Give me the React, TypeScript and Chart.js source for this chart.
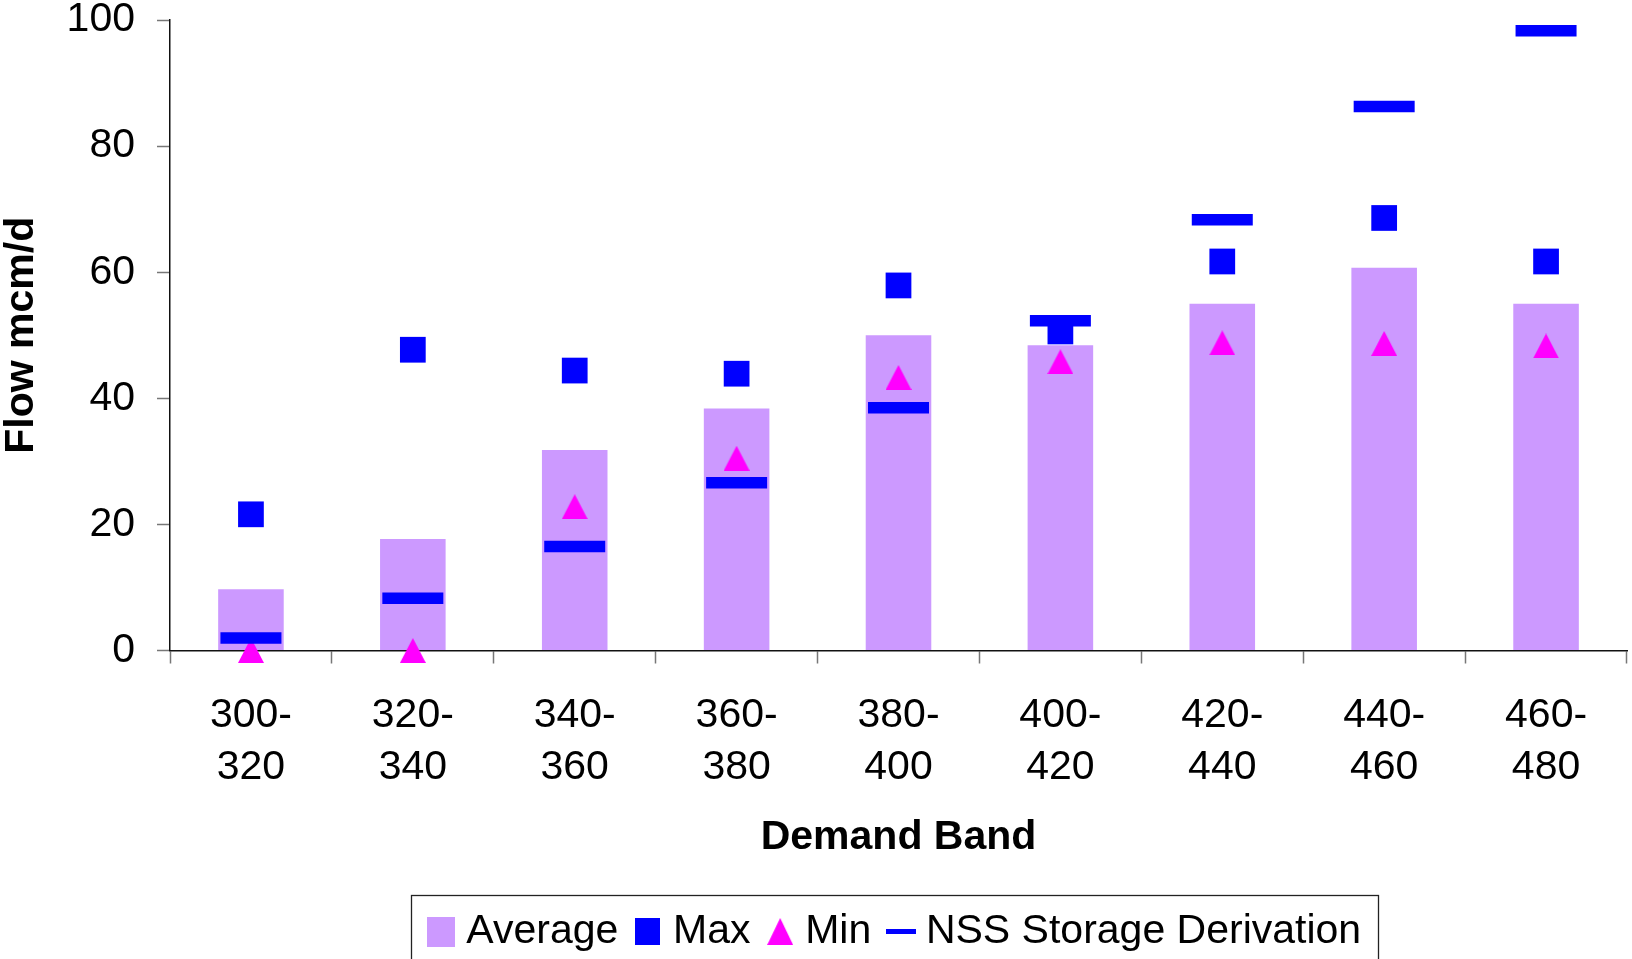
import React, { useEffect, useRef } from 'react';
import { Chart, registerables } from 'chart.js';

Chart.register(...registerables);

const categories = ['300-320', '320-340', '340-360', '360-380', '380-400', '400-420', '420-440', '440-460', '460-480'];
const averageValues = [9.7, 17.7, 31.8, 38.4, 50.0, 48.4, 55.0, 60.7, 55.0];
const maxValues = [21.6, 47.7, 44.4, 43.9, 57.9, 50.6, 61.7, 68.6, 61.7];
const minValues = [0, 0, 22.8, 30.5, 43.3, 45.8, 48.8, 48.7, 48.3];
const nssValues = [2.0, 8.3, 16.5, 26.6, 38.5, 52.3, 68.3, 86.3, 98.3];
const yTicks = [0, 20, 40, 60, 80, 100];
const seriesNames = ['Average', 'Max', 'Min', 'NSS Storage Derivation'];

const AVG_COLOR = '#CC99FF';
const MAX_COLOR = '#0000FF';
const MIN_COLOR = '#FF00FF';
const NSS_COLOR = '#0000FF';
const FONT = '"Liberation Sans", Arial, Helvetica, sans-serif';
const FS = 41;

function makeCanvas(w: number, h: number, draw: (ctx: CanvasRenderingContext2D) => void) {
  const c = document.createElement('canvas');
  c.width = w;
  c.height = h;
  const ctx = c.getContext('2d')!;
  draw(ctx);
  return c;
}

function triangle(w: number, h: number, color: string) {
  return makeCanvas(w, h, (ctx) => {
    ctx.fillStyle = color;
    ctx.beginPath();
    ctx.moveTo(w / 2, 0);
    ctx.lineTo(w, h);
    ctx.lineTo(0, h);
    ctx.closePath();
    ctx.fill();
  });
}

function rect(w: number, h: number, color: string) {
  return makeCanvas(w, h, (ctx) => {
    ctx.fillStyle = color;
    ctx.fillRect(0, 0, w, h);
  });
}

export default function App() {
  const ref = useRef<HTMLCanvasElement>(null);

  useEffect(() => {
    document.body.style.margin = '0';
    const minPoint = triangle(26, 25, MIN_COLOR);
    const legendAvg = rect(28, 30, AVG_COLOR);
    const legendMax = rect(25, 27, MAX_COLOR);
    const legendMin = triangle(26, 27, MIN_COLOR);
    const legendNss = rect(30, 5, NSS_COLOR);
    const legendSymbols = [legendAvg, legendMax, legendMin, legendNss];

    const legendPlugin = {
      id: 'legendFrame',
      afterLayout(chart: any) {
        const lg = chart.legend;
        if (lg) {
          const center = 899;
          lg.left = 2 * center - lg.right;
          lg.width = lg.right - lg.left;
          lg.top += 3;
          lg.bottom += 3;
        }
      },
      afterDraw(chart: any) {
        const lg = chart.legend;
        if (!lg) return;
        const ctx = chart.ctx;
        ctx.save();
        ctx.strokeStyle = '#222';
        ctx.lineWidth = 1.3;
        ctx.strokeRect(411.5, 895.5, 967, 120);
        ctx.restore();
      },
    };

    Chart.defaults.font.family = FONT;
    Chart.defaults.color = '#000';

    const chart = new Chart(ref.current!, {
      type: 'bar',
      data: {
        labels: categories,
        datasets: [
          {
            type: 'bar',
            label: seriesNames[0],
            data: averageValues,
            backgroundColor: AVG_COLOR,
            borderWidth: 0,
            barPercentage: 0.405,
            categoryPercentage: 1.0,
            order: 4,
          },
          {
            type: 'line',
            label: seriesNames[1],
            data: maxValues,
            showLine: false,
            pointStyle: 'rect',
            pointRadius: 18.2,
            pointBackgroundColor: MAX_COLOR,
            pointBorderWidth: 0,
            clip: false,
            order: 3,
          },
          {
            type: 'line',
            label: seriesNames[2],
            data: minValues,
            showLine: false,
            pointStyle: minPoint,
            pointRadius: 13,
            pointBackgroundColor: MIN_COLOR,
            pointBorderWidth: 0,
            clip: false,
            order: 2,
          },
          {
            type: 'line',
            label: seriesNames[3],
            data: nssValues,
            showLine: false,
            pointStyle: 'line',
            pointRadius: 30.5,
            pointBorderWidth: 11.5,
            pointBorderColor: NSS_COLOR,
            pointBackgroundColor: NSS_COLOR,
            clip: false,
            order: 1,
          },
        ] as any,
      },
      options: {
        responsive: false,
        animation: false,
        events: [],
        layout: { autoPadding: false, padding: { top: 20, right: 5, bottom: 0, left: 0 } },
        plugins: {
          tooltip: { enabled: false },
          legend: {
            display: true,
            position: 'bottom',
            align: 'center',
            labels: {
              usePointStyle: true,
              boxWidth: 9,
              boxHeight: 28,
              padding: 25.2,
              color: '#000',
              font: { size: FS, family: FONT },
              generateLabels: () =>
                seriesNames.map((name, i) => ({
                  text: name,
                  pointStyle: legendSymbols[i] as any,
                  fillStyle: 'transparent',
                  strokeStyle: 'transparent',
                  lineWidth: 0,
                  hidden: false,
                  datasetIndex: i,
                  fontColor: '#000',
                })),
            },
          },
        },
        scales: {
          x: {
            type: 'category',
            offset: true,
            grid: {
              display: true,
              offset: true,
              drawOnChartArea: false,
              drawTicks: true,
              tickLength: 13,
              tickColor: '#777',
              tickWidth: 1.5,
            },
            border: { display: true, color: '#111', width: 1.5 },
            ticks: {
              padding: 26.5,
              maxRotation: 0,
              autoSkip: false,
              color: '#000',
              font: { size: FS, family: FONT, lineHeight: 52 / FS },
              callback: (_v: any, i: number) => {
                const s = categories[i];
                const k = s.indexOf('-');
                return [s.slice(0, k + 1), s.slice(k + 1)];
              },
            },
            title: {
              display: true,
              text: 'Demand Band',
              color: '#000',
              font: { size: FS, weight: 'bold', family: FONT, lineHeight: 1.2 },
              padding: { top: 20, bottom: 20.2 },
            },
            afterFit: (s: any) => {
              s.height = 232.3;
              s.paddingLeft = 0;
              s.paddingRight = 0;
            },
          },
          y: {
            type: 'linear',
            min: 0,
            max: 100,
            grid: {
              display: true,
              drawOnChartArea: false,
              drawTicks: true,
              tickLength: 13,
              tickColor: '#777',
              tickWidth: 1.5,
            },
            border: { display: true, color: '#111', width: 1.5 },
            afterBuildTicks: (s: any) => {
              s.ticks = yTicks.map((v) => ({ value: v }));
            },
            ticks: {
              padding: 22,
              color: '#000',
              font: { size: FS, family: FONT, lineHeight: 1.0 },
            },
            title: {
              display: true,
              text: 'Flow mcm/d',
              color: '#000',
              font: { size: FS, weight: 'bold', family: FONT, lineHeight: 1.0 },
              padding: { top: 1.5, bottom: 20 },
            },
            afterFit: (s: any) => {
              s.width = 170;
              s.paddingTop = 0;
              s.paddingBottom = 0;
            },
          },
        },
      } as any,
      plugins: [legendPlugin],
    });

    return () => chart.destroy();
  }, []);

  return (
    <div style={{ width: 1632, height: 959 }}>
      <canvas ref={ref} width={1632} height={959} style={{ display: 'block' }} />
    </div>
  );
}
